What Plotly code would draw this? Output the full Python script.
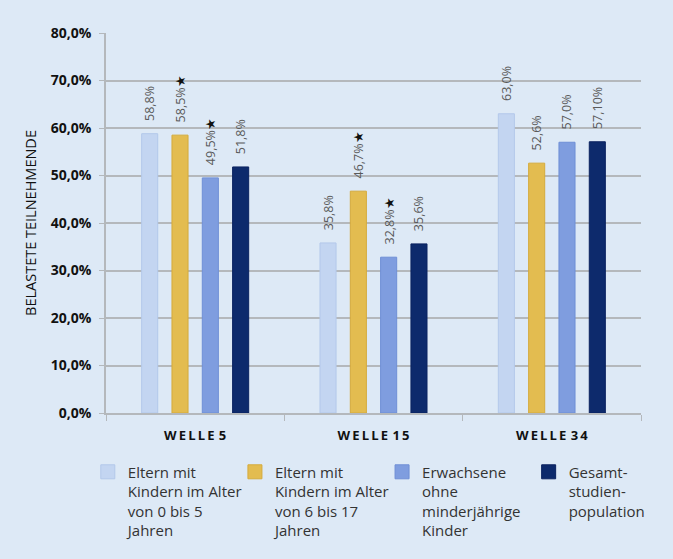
import plotly.graph_objects as go

wellen = ["W\u2009E\u2009L\u2009L\u2009E\u2009\u20095", "W\u2009E\u2009L\u2009L\u2009E\u2009\u20091\u20095", "W\u2009E\u2009L\u2009L\u2009E\u2009\u20093\u20094"]

gruppen = [
    "Eltern mit<br>Kindern im Alter<br>von 0 bis 5<br>Jahren",
    "Eltern mit<br>Kindern im Alter<br>von 6 bis 17<br>Jahren",
    "Erwachsene<br>ohne<br>minderjährige<br>Kinder",
    "Gesamt-<br>studien-<br>population",
]

werte = [
    [58.8, 35.8, 63.0],
    [58.5, 46.7, 52.6],
    [49.5, 32.8, 57.0],
    [51.8, 35.6, 57.1],
]

labels = [
    ["58,8%", "35,8%", "63,0%"],
    ["58,5%", "46,7%", "52,6%"],
    ["49,5%", "32,8%", "57,0%"],
    ["51,8%", "35,6%", "57,10%"],
]

# significance markers
sterne = [
    [False, False, False],
    [True, True, False],
    [True, True, False],
    [False, False, False],
]

farben = ["#c3d5f1", "#e3bc50", "#7f9ddf", "#0d2a6c"]
rand = ["#b3c8ea", "#d5ab3c", "#6f8fd6", "#0a2260"]
legend_x = [-0.034, 0.241, 0.516, 0.790]

fig = go.Figure()
for i in range(4):
    txt = []
    for j in range(3):
        t = "\u00a0\u00a0\u00a0" + labels[i][j]
        if sterne[i][j]:
            t += "<span style='color:#111;font-size:13px'>★</span>"
        txt.append(t)
    fig.add_trace(go.Bar(
        x=wellen, y=werte[i], name=gruppen[i], showlegend=False,
        marker=dict(color=farben[i], line=dict(color=rand[i], width=1)),
        text=txt, textposition="outside", textangle=-90,
        textfont=dict(size=12.5, color="#5a5a5a", family="Open Sans"),
        cliponaxis=False,
    ))
    # legend entry with a bigger square swatch
    lg = "legend" if i == 0 else "legend%d" % (i + 1)
    fig.add_trace(go.Scatter(
        x=[None], y=[None], mode="markers", name=gruppen[i], legend=lg,
        marker=dict(symbol="square", size=14, color=farben[i], line=dict(color=rand[i], width=1)),
    ))

fig.update_layout(
    width=673, height=559,
    paper_bgcolor="#dde9f6", plot_bgcolor="#dde9f6",
    separators=",.",
    barmode="group", bargap=0.32, bargroupgap=0.47,
    margin=dict(l=106, r=32, t=33, b=142),
    font=dict(family="Open Sans", color="#222"),
    showlegend=True,
    uniformtext=dict(minsize=12, mode="show"),
)
for i in range(4):
    key = "legend" if i == 0 else "legend%d" % (i + 1)
    fig.update_layout({key: dict(
        x=legend_x[i], y=-0.112, xanchor="left", yanchor="top",
        font=dict(size=15, color="#333"), valign="top",
        itemwidth=30, bgcolor="rgba(0,0,0,0)",
    )})

fig.update_yaxes(
    range=[0, 80], dtick=10, tickformat=".1f", ticksuffix="%",
    showgrid=True, gridcolor="#b4b8bc", gridwidth=1.5,
    showline=True, linecolor="#b4b8bc", linewidth=1.5,
    ticks="outside", ticklen=5, tickcolor="#b4b8bc", ticklabelstandoff=5,
    tickfont=dict(size=14, color="#111", family="Open Sans", weight="bold"),
    title=dict(text="BELASTETE TEILNEHMENDE", font=dict(size=14.5, color="#111"), standoff=11),
    zeroline=False, automargin=False,
)
fig.update_xaxes(
    showline=True, linecolor="#b4b8bc", linewidth=1.5,
    ticks="outside", tickson="boundaries", ticklen=6, tickcolor="#b4b8bc",
    ticklabelstandoff=10,
    tickfont=dict(size=13, color="#111", family="Open Sans", weight="bold"),
    automargin=False,
)

fig.write_html("out.html", config={"displayModeBar": False},
               post_script="document.body.style.margin='0px';")
